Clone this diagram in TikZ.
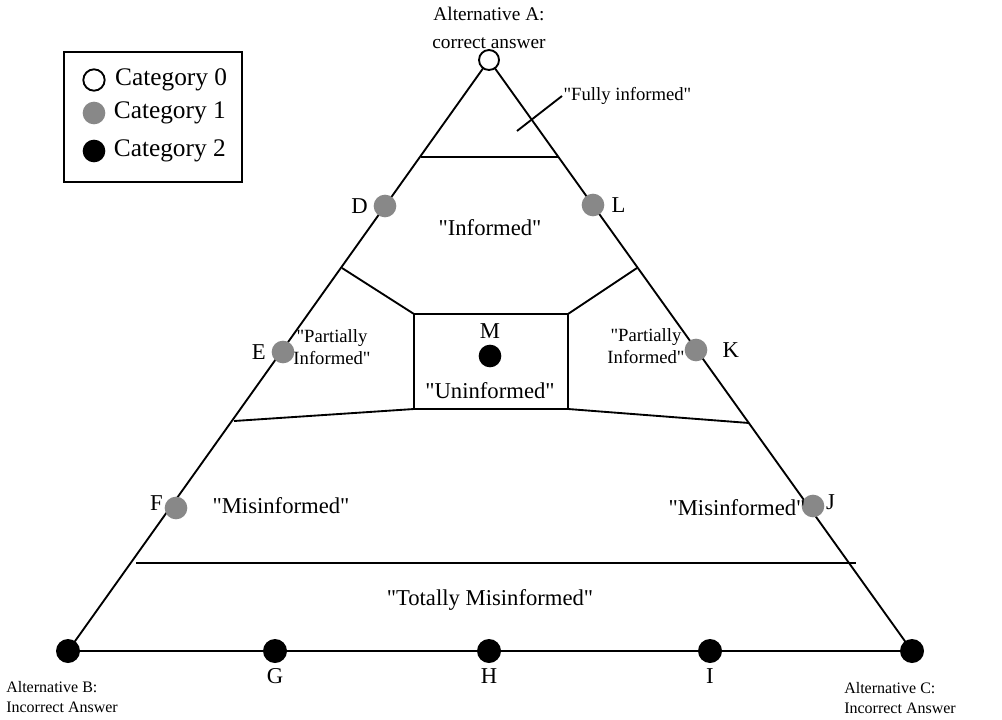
\documentclass[tikz,border=0pt]{standalone}
\usepackage{fontspec}
\setmainfont{Liberation Serif}[Ligatures=TeXOff]
\usetikzlibrary{positioning, calc}
\definecolor{dotgray}{RGB}{136,136,136}
\newcommand{\qt}[1]{"#1"}

\begin{document}
\begin{tikzpicture}[x=0.75pt, y=-0.75pt, node distance=5pt,
  edge/.style={line width=1.4pt},
  dot0/.style={circle, draw, line width=1.4pt, fill=white, minimum size=15pt, inner sep=0pt},
  dot1/.style={circle, fill=dotgray, minimum size=17pt, inner sep=0pt},
  dot2/.style={circle, fill=black, minimum size=17pt, inner sep=0pt},
  lbl/.style={inner sep=1pt, font=\fontsize{17}{19}\selectfont},
  region/.style={align=center, inner sep=1pt, font=\fontsize{17}{19}\selectfont},
  partial/.style={align=center, inner sep=1pt, font=\fontsize{14}{16.5}\selectfont},
  alt/.style={align=left, inner sep=0pt, font=\fontsize{12}{15}\selectfont},
  legtxt/.style={inner sep=1pt, font=\fontsize{19}{21}\selectfont}]

  \useasboundingbox (0,0) rectangle (1002,720);

  % corners of the triangle
  \coordinate (a) at (489,60);
  \coordinate (b) at (68,651);
  \coordinate (c) at (912,651);

  % region borders
  \coordinate (fl) at (421,157);  \coordinate (fr) at (559,157);
  \coordinate (pl) at (342,268);  \coordinate (pr) at (637,268);
  \coordinate (m1) at (414,314);  \coordinate (m2) at (568,314);
  \coordinate (m3) at (568,409);  \coordinate (m4) at (414,409);
  \coordinate (ml) at (234,421);  \coordinate (mr) at (749,423);
  \coordinate (tl) at (136,563);  \coordinate (tr) at (856,563);
  \coordinate (p1) at (517,131);

  \draw[edge] (a) -- (b) -- (c) -- cycle;
  \draw[edge] (fl) -- (fr);
  \draw[edge] (pl) -- (m1) -- (m2) -- (pr);
  \draw[edge] (ml) -- (m4) -- (m3) -- (mr);
  \draw[edge] (m1) -- (m4) (m2) -- (m3);
  \draw[edge] (tl) -- (tr);

  % answer points
  \node[dot0] (A) at (a) {};
  \node[dot2, minimum size=18pt] (B) at (b) {};
  \node[dot2, minimum size=18pt] (C) at (c) {};
  \node[dot1] (D) at (385,206) {};
  \node[dot1] (E) at (283,352) {};
  \node[dot1] (F) at (176,508) {};
  \node[dot1] (L) at (593,205) {};
  \node[dot1] (K) at (696,350) {};
  \node[dot1] (J) at (813,506) {};
  \node[dot2, minimum size=18pt] (G) at (275,651) {};
  \node[dot2, minimum size=18pt] (H) at (489,651) {};
  \node[dot2, minimum size=18pt] (I) at (710,651) {};
  \node[dot2] (M) at (490,356) {};

  \node[lbl, left=3pt of D]              {D};
  \node[lbl, left=3pt of E]              {E};
  \node[lbl, left=0pt of F, yshift=4pt]  {F};
  \node[lbl, right=4pt of L]             {L};
  \node[lbl, right=10pt of K]            {K};
  \node[lbl, right=0pt of J, yshift=3pt] {J};
  \node[lbl, below=3pt of G]             {G};
  \node[lbl, below=3pt of H]             {H};
  \node[lbl, below=3pt of I]             {I};
  \node[lbl, above=3pt of M]             {M};

  \node[align=center, inner sep=1pt, font=\fontsize{14.5}{21}\selectfont,
        above=-1pt of A] (altA) {Alternative A:\\correct answer};
  \node[alt, anchor=north west] (altB) at (6,681) {Alternative B:\\Incorrect Answer};
  \node[alt, anchor=north west] (altC) at (844,682) {Alternative C:\\Incorrect Answer};

  % region names
  \node[region] (inf)  at (490,228) {\qt{Informed}};
  \node[region] (uni)  at (490,391) {\qt{Uninformed}};
  \node[partial] (pil) at (332,347) {\qt{Partially\\Informed}};
  \node[partial] (pir) at (646,346) {\qt{Partially\\Informed}};
  \node[region] (mil)  at (281,506) {\qt{Misinformed}};
  \node[region] (mir)  at (737,508) {\qt{Misinformed}};
  \node[region] (tmi)  at (490,600) {\qt{Totally Misinformed}};
  \node[partial, anchor=west] (ful) at (562,96) {\qt{Fully informed}};
  \draw[edge] (p1) -- (ful.west);

  % legend
  \node[draw, line width=1.4pt, minimum width=133.5pt, minimum height=97.5pt]
        (legend) at (153,117) {};
  \node[dot0, minimum size=16pt] (leg0) at (94,80) {};
  \node[dot1] (leg1) at (94,113) {};
  \node[dot2] (leg2) at (94,151) {};
  \node[legtxt, right=6pt of leg0] {Category 0};
  \node[legtxt, right=5pt of leg1] {Category 1};
  \node[legtxt, right=5pt of leg2] {Category 2};
\end{tikzpicture}
\end{document}
